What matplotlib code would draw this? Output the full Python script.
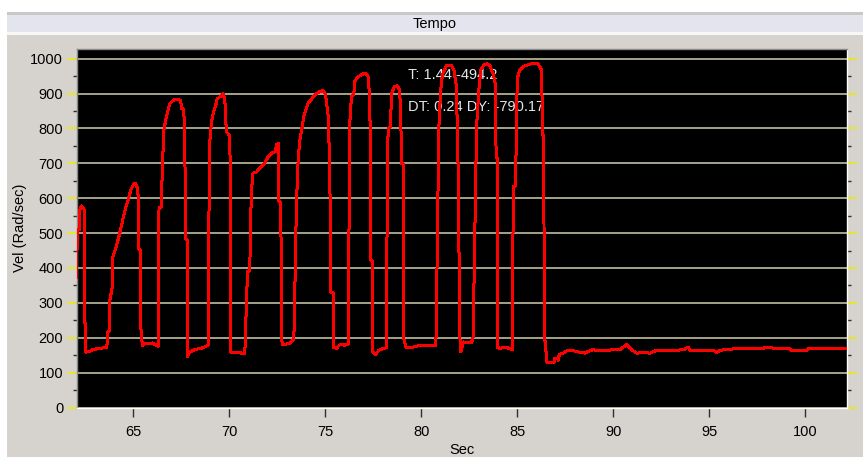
import matplotlib
matplotlib.use("Agg")
import matplotlib.pyplot as plt
from matplotlib.patches import Rectangle
from matplotlib.ticker import MultipleLocator

# velocity trace (sec, rad/sec)
t = [62.05, 62.06, 62.18, 62.20, 62.28, 62.40, 62.44, 62.45, 62.50, 62.51,
     62.72, 62.85, 63.07, 63.59, 63.64, 63.66, 63.76, 63.77, 63.88, 63.93,
     64.07, 64.19, 64.32, 64.46, 64.59, 64.72, 64.86, 65.00, 65.10, 65.20,
     65.25, 65.27, 65.37, 65.38, 65.46, 65.60, 66.00, 66.28, 66.33, 66.45,
     66.51, 66.59, 66.68, 66.80, 66.89, 67.10, 67.27, 67.46, 67.50, 67.62,
     67.67, 67.72, 67.80, 67.81, 67.93, 68.19, 68.54, 68.89, 68.94, 68.97,
     69.06, 69.18, 69.27, 69.36, 69.53, 69.67, 69.76, 69.84, 70.02, 70.07,
     70.08, 70.36,
     70.80, 70.94, 71.06, 71.11, 71.18, 71.23, 71.41, 71.58, 71.76, 71.88,
     72.02, 72.19, 72.40, 72.45, 72.50, 72.54, 72.55, 72.68, 72.71, 72.76,
     73.15, 73.32, 73.37, 73.49, 73.58, 73.67, 73.81, 73.89, 73.98, 74.10,
     74.28, 74.45, 74.71, 74.88, 75.01, 75.14, 75.23, 75.28, 75.40, 75.41,
     75.58, 75.75, 76.01, 76.19, 76.24, 76.27, 76.36, 76.48, 76.53, 76.67,
     76.88, 77.09, 77.23, 77.32, 77.37, 77.46, 77.47, 77.61, 77.79, 78.01,
     78.19, 78.22, 78.27, 78.39, 78.45, 78.59, 78.74, 78.85, 78.92, 78.97,
     79.06, 79.07,
     79.09, 79.19, 79.58, 79.92, 80.27, 80.76, 80.83, 80.91, 81.00, 81.10,
     81.31, 81.57, 81.70, 81.83, 81.92, 82.01, 82.06, 82.18, 82.36, 82.62,
     82.70, 82.79, 82.88, 83.00, 83.10, 83.28, 83.43, 83.57, 83.75, 83.85,
     83.90, 83.95, 83.96, 84.09, 84.35, 84.62, 84.75, 84.79, 84.91, 85.00,
     85.14, 85.31, 85.57, 85.83, 86.09, 86.27, 86.32, 86.39, 86.40, 86.47,
     86.53,
     86.91, 86.95, 87.10, 87.14, 87.19, 87.40, 87.57, 87.92, 88.09, 88.53,
     88.79, 88.96, 89.14, 89.66, 89.92, 90.35, 90.70, 90.96, 91.22, 91.57,
     91.92, 92.26, 93.65, 93.91, 94.00, 95.22, 95.39, 95.57, 96.61, 97.82,
     98.00, 98.35, 99.21, 99.30, 100.08, 100.17, 100.43, 102.17]
vel = [374, 508, 510, 566, 578, 570, 565, 245, 240, 159,
       161, 165, 168, 172, 185, 216, 220, 307, 342, 432,
       456, 480, 508, 543, 572, 595, 624, 640, 643, 630,
       604, 454, 450, 231, 178, 184, 185, 175, 572, 575,
       701, 796, 825, 853, 871, 882, 883, 881, 858, 855,
       772, 485, 480, 145, 159, 166, 170, 178, 604, 758,
       816, 849, 863, 884, 892, 899, 882, 791, 779, 494,
       159, 159,
       154, 389, 392, 557, 643, 672, 675, 686, 695, 705,
       719, 729, 734, 753, 735, 758, 595, 585, 202, 181,
       183, 194, 221, 580, 710, 767, 810, 839, 853, 873,
       884, 897, 906, 909, 897, 839, 695, 331, 328, 173,
       170, 180, 179, 182, 580, 815, 892, 897, 935, 947,
       954, 959, 949, 877, 422, 420, 159, 152, 164, 169,
       171, 604, 801, 805, 901, 919, 922, 913, 863, 700,
       698, 202,
       197, 173, 173, 178, 178, 179, 446, 796, 906, 954,
       980, 980, 968, 920, 681, 202, 159, 188, 185, 186,
       202, 508, 805, 911, 968, 983, 985, 980, 955, 930,
       719, 715, 173, 169, 173, 169, 166, 633, 636, 944,
       968, 978, 983, 987, 985, 968, 782, 779, 193, 190,
       130,
       128, 140, 142, 136, 152, 156, 162, 163, 160, 156,
       163, 166, 162, 162, 166, 166, 180, 166, 156, 157,
       156, 164, 165, 173, 164, 164, 158, 164, 170, 170,
       173, 170, 168, 164, 164, 170, 168, 168]

yticks = [0, 100, 200, 300, 400, 500, 600, 700, 800, 900, 1000]
xticks = [65, 70, 75, 80, 85, 90, 95, 100]
cursor_text = ["T: 1.44 -494.2", "DT: 0.24 DY: -790.17"]

W, H = 863, 457
plt.rcParams['font.family'] = ['Liberation Sans', 'DejaVu Sans']

fig = plt.figure(figsize=(W / 100, H / 100), dpi=100, facecolor='#d6d2ce')


def box(x0, y0, x1, y1, color):
    # rectangle given in screen pixels (top-left origin)
    fig.add_artist(Rectangle((x0 / W, 1 - y1 / H), (x1 - x0) / W, (y1 - y0) / H,
                             transform=fig.transFigure, facecolor=color,
                             edgecolor='none', zorder=-10))


box(0, 0, W, 12, 'white')
box(0, 0, 7, H, 'white')
box(7, 12, W, 15, '#c9c7c7')
box(7, 15, W, 32, '#e4e4ee')
box(7, 32, W, 35, '#f7f7f7')
fig.text(435 / W, 1 - 24 / H, 'Tempo', ha='center', va='center', fontsize=10.5, color='black')

ax_l, ax_r, ax_t, ax_b = 76.7, 846.7, 49.3, 407.5
ax = fig.add_axes([ax_l / W, 1 - ax_b / H, (ax_r - ax_l) / W, (ax_b - ax_t) / H])
ax.set_facecolor('black')

ax.plot(t, vel, color='#ff0000', lw=1.44, zorder=3, antialiased=False)

ax.set_xlim(62.04, 102.17)
ax.set_ylim(0, 1027)
ax.set_xticks(xticks)
ax.set_yticks(yticks)
ax.yaxis.set_minor_locator(MultipleLocator(50))
ax.grid(axis='y', color='#a09e84', lw=1.4, antialiased=False)
ax.set_axisbelow(True)

ax.tick_params(axis='y', which='major', direction='out', length=7.2, width=1.2,
               color='#eaea10', labelsize=10.5, pad=2.5, right=True, labelright=False)
ax.tick_params(axis='y', which='minor', direction='out', length=3.2, width=1,
               color='#303030', right=True)
ax.tick_params(axis='x', which='major', direction='out', length=6.5, width=1,
               color='#303030', labelsize=10.5, pad=6)

for s in ['left', 'top']:
    ax.spines[s].set_color('#8a8a8a')
for s in ['right', 'bottom']:
    ax.spines[s].set_color('white')
for s in ax.spines.values():
    s.set_linewidth(1)

for i, txt in enumerate(cursor_text):
    ax.text(408 / W, 1 - (75 + 32 * i) / H, txt, transform=fig.transFigure,
            color='#e6e6e6', fontsize=10.5, ha='left', va='center', zorder=2)

fig.text(20 / W, 1 - 228 / H, 'Vel (Rad/sec)', rotation=90, ha='center', va='center',
         fontsize=10.5, color='black')
fig.text(462 / W, 1 - 450 / H, 'Sec', ha='center', va='center', fontsize=10.5, color='black')

fig.savefig('out.png', dpi=100, facecolor=fig.get_facecolor())
